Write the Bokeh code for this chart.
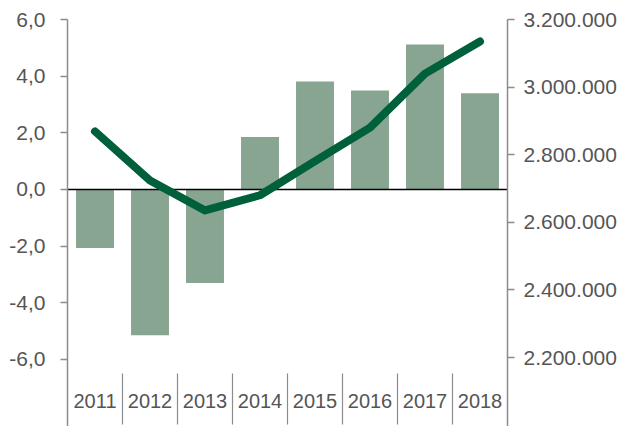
from bokeh.plotting import figure
from bokeh.models import (Range1d, LinearAxis, FixedTicker, CustomJSTickFormatter,
                          FactorRange, ColumnDataSource)
from bokeh.core.properties import value
from bokeh.embed import file_html
from bokeh.resources import INLINE

years = ["2011", "2012", "2013", "2014", "2015", "2016", "2017", "2018"]
growth = [-2.07, -5.15, -3.30, 1.85, 3.81, 3.49, 5.12, 3.40]
population = [2869000, 2724000, 2635000, 2680000, 2781000, 2880000, 3040000, 3135000]
left_ticks = [-6, -4, -2, 0, 2, 4, 6]
right_ticks = [2200000, 2400000, 2600000, 2800000, 3000000, 3200000]

FONT = "Liberation Sans"
TXT = "#555555"
AX = "#8c8c8c"
LEFT_MIN = -8.37

p = figure(width=624, height=426, output_backend="svg", toolbar_location=None,
           x_range=FactorRange(*years), y_range=Range1d(LEFT_MIN, 6.0),
           x_axis_location=None, min_border_left=67, min_border_right=117,
           min_border_top=19, min_border_bottom=0)
p.outline_line_color = None
p.grid.visible = False
p.background_fill_color = "white"
p.border_fill_color = "white"

p.extra_y_ranges = {"right": Range1d(1995900, 3200000)}

# left axis
la = p.yaxis[0]
la.ticker = FixedTicker(ticks=left_ticks)
la.formatter = CustomJSTickFormatter(code="return tick.toFixed(1).replace('.', ',');")
la.axis_line_color = AX
la.axis_line_width = 1.5
la.major_tick_line_color = AX
la.major_tick_line_width = 1.5
la.major_tick_out = 7
la.major_tick_in = 0
la.minor_tick_line_color = None
la.major_label_standoff = 15
la.major_label_text_font = FONT
la.major_label_text_font_size = "21px"
la.major_label_text_color = TXT

# right axis
ra = LinearAxis(y_range_name="right")
ra.ticker = FixedTicker(ticks=right_ticks)
ra.formatter = CustomJSTickFormatter(
    code="return tick.toFixed(0).replace(/\\B(?=(\\d{3})+(?!\\d))/g, '.');")
ra.axis_line_color = AX
ra.axis_line_width = 1.5
ra.major_tick_line_color = AX
ra.major_tick_line_width = 1.5
ra.major_tick_out = 7
ra.major_tick_in = 0
ra.minor_tick_line_color = None
ra.major_label_standoff = 9
ra.major_label_text_font = FONT
ra.major_label_text_font_size = "21px"
ra.major_label_text_color = TXT
p.add_layout(ra, "right")

src = ColumnDataSource(dict(year=years, growth=growth, pop=population))

p.vbar(x="year", top="growth", bottom=0, width=0.69, source=src,
       fill_color="#87a591", line_color=None)

# zero line
n = len(years)
p.segment(x0=[0], y0=[0], x1=[n], y1=[0], line_color="black", line_width=1.5)

# category separators
bounds = list(range(1, n))
p.segment(x0=bounds, y0=[-6.5] * len(bounds), x1=bounds, y1=[LEFT_MIN + 0.07] * len(bounds),
          line_color=AX, line_width=1.2)

# category labels
p.text(x="year", y=-7.47, text="year", source=src, text_font=value(FONT),
       text_font_size="20px", text_color=TXT, text_align="center",
       text_baseline="middle")

p.line(x="year", y="pop", source=src, y_range_name="right", line_color="#00603c",
       line_width=8, line_cap="round", line_join="round")

open("out.html", "w").write(file_html(p, INLINE))
